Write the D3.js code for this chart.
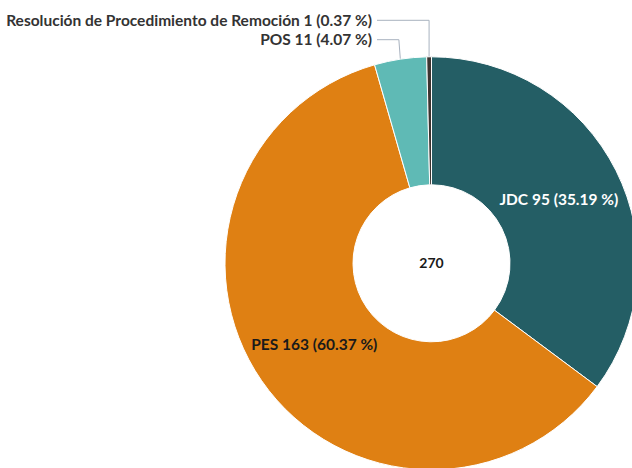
<!DOCTYPE html>
<html>
<head>
<meta charset="utf-8">
<script src="https://cdn.jsdelivr.net/npm/d3@7"></script>
<style>
  body { margin: 0; background: #fff; }
  svg { display: block; }
  text { font-family: Lato, "Open Sans", sans-serif; font-weight: bold; }
</style>
</head>
<body>
<svg id="chart" width="632" height="468"></svg>
<script>
const categories = ['JDC', 'PES', 'POS', 'Resolución de Procedimiento de Remoción'];
const values = [95, 163, 11, 1];
const colors = ['#245e65', '#df8013', '#5fbab5', '#3d3430'];
const insideLabels = [true, true, false, false];
const labelColors = ['#ffffff', '#1a1a1a', '#333333', '#333333'];

const width = 632, height = 468;
const cx = 431.5, cy = 263.3;
const outerR = 206.5, innerR = 78.5;
const fontSize = '15.5px';

let total = d3.sum(values);
let data = categories.map((c, i) => ({ name: c, value: values[i], color: colors[i], inside: insideLabels[i], textColor: labelColors[i] }));

let svg = d3.select('#chart');
let g = svg.append('g').attr('transform', 'translate(' + cx + ',' + cy + ')');

let pie = d3.pie().sort(null).value(d => d.value);
let arc = d3.arc().innerRadius(innerR).outerRadius(outerR);
let arcs = pie(data);

g.selectAll('path.slice')
  .data(arcs)
  .enter()
  .append('path')
  .attr('class', 'slice')
  .attr('d', arc)
  .attr('fill', d => d.data.color)
  .attr('stroke', '#ffffff')
  .attr('stroke-width', 1);

let fmt = d => d.data.name + ' ' + d.data.value + ' (' + (d.data.value / total * 100).toFixed(2) + ' %)';

// labels inside the ring
g.selectAll('text.inner')
  .data(arcs.filter(d => d.data.inside))
  .enter()
  .append('text')
  .attr('class', 'inner')
  .attr('transform', d => 'translate(' + arc.centroid(d) + ')')
  .attr('text-anchor', 'middle')
  .attr('dy', '0.35em')
  .style('font-size', fontSize)
  .attr('fill', d => d.data.textColor)
  .text(fmt);

// small slices get labels outside with a connector
let outside = arcs.filter(d => !d.data.inside);
let labelY = [-243, -223.6]; // last slice sits on top
let textRight = 372 - cx;
outside.forEach((d, i) => {
  let ly = labelY[outside.length - 1 - i];
  let mid = d.startAngle + (d.endAngle - d.startAngle) / 2;
  let edgeR = outerR + 0.5;
  let ex = Math.sin(mid) * edgeR, ey = -Math.cos(mid) * edgeR;
  let bendX = ex - (ey - ly) * Math.tan(Math.PI * 2 - mid) * 0.5;
  if (d.endAngle - d.startAngle < 0.05) bendX = ex;
  g.append('path')
    .attr('d', 'M' + (textRight + 5) + ',' + ly + 'L' + bendX + ',' + ly + 'L' + ex + ',' + ey)
    .attr('fill', 'none')
    .attr('stroke', '#a8b2bf')
    .attr('stroke-width', 1);
  g.append('text')
    .attr('x', textRight)
    .attr('y', ly)
    .attr('dy', '0.35em')
    .attr('text-anchor', 'end')
    .style('font-size', fontSize)
    .attr('fill', d.data.textColor)
    .text(fmt(d));
});

g.append('text')
  .attr('text-anchor', 'middle')
  .attr('dy', '0.35em')
  .style('font-size', '14px')
  .attr('fill', '#1a1a1a')
  .text(total);
</script>
</body>
</html>
